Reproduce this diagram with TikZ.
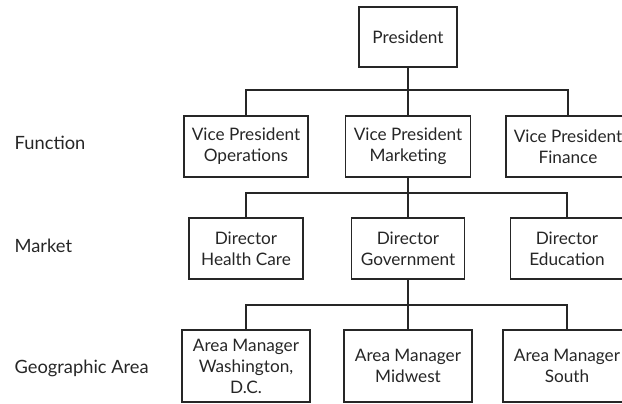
\documentclass[tikz,border=0pt]{standalone}
\usepackage{fontspec}
\setmainfont{Lato}
\begin{document}
\begin{tikzpicture}[x=1pt,y=-1pt,
  line width=1.3pt,
  box/.style={draw=black!85, line width=1.3pt, inner sep=0pt, align=center,
              font=\fontsize{17.2}{21}\selectfont, text=black!85},
  lvl/.style={anchor=west, inner sep=0pt, font=\fontsize{18.3}{20}\selectfont, text=black!85},
  wire/.style={draw=black!85, line width=1.3pt}]
  \useasboundingbox (0,0) rectangle (622,404);
  \clip (0,0) rectangle (622,404);

  % top
  \node[box, minimum width=98pt, minimum height=60pt] (pres) at (408,37) {President};

  % functions
  \node[box, minimum width=124pt, minimum height=61pt] (vpo) at (246,146.5) {Vice President\\Operations};
  \node[box, minimum width=125pt, minimum height=61pt] (vpm) at (408,146.5) {Vice President\\Marketing};
  \node[box, minimum width=124pt, minimum height=61pt] (vpf) at (568,146.5) {Vice President\\Finance};

  % markets
  \node[box, minimum width=114pt, minimum height=61pt] (dhc) at (246,248.5) {Director\\Health Care};
  \node[box, minimum width=113pt, minimum height=61pt] (dgv) at (408,248.5) {Director\\Government};
  \node[box, minimum width=113pt, minimum height=61pt] (ded) at (567,248.5) {Director\\Education};

  % geographic areas
  \node[box, minimum width=128pt, minimum height=72pt] (amw) at (246,366) {Area Manager\\Washington,\\D.C.};
  \node[box, minimum width=128pt, minimum height=72pt] (amm) at (408,366) {Area Manager\\Midwest};
  \node[box, minimum width=128pt, minimum height=72pt] (ams) at (567,366) {Area Manager\\South};

  % level labels
  \node[lvl] (lf) at (14,143) {Function};
  \node[lvl] (lm) at (14,246) {Market};
  \node[lvl] (lg) at (14,368) {Geographic Area};

  % bus rails
  \coordinate (bus1) at (0,90);
  \coordinate (bus2) at (0,193);
  \coordinate (bus3) at (0,305);

  \draw[wire] (pres.south) -- (vpm.north);
  \draw[wire] (vpo.north) |- (vpm.north |- bus1) -| (vpf.north);

  \draw[wire] (vpm.south) -- (dgv.north);
  \draw[wire] (dhc.north) |- (dgv.north |- bus2) -| (ded.north);

  \draw[wire] (dgv.south) -- (amm.north);
  \draw[wire] (amw.north) |- (amm.north |- bus3) -| (ams.north);
\end{tikzpicture}
\end{document}
